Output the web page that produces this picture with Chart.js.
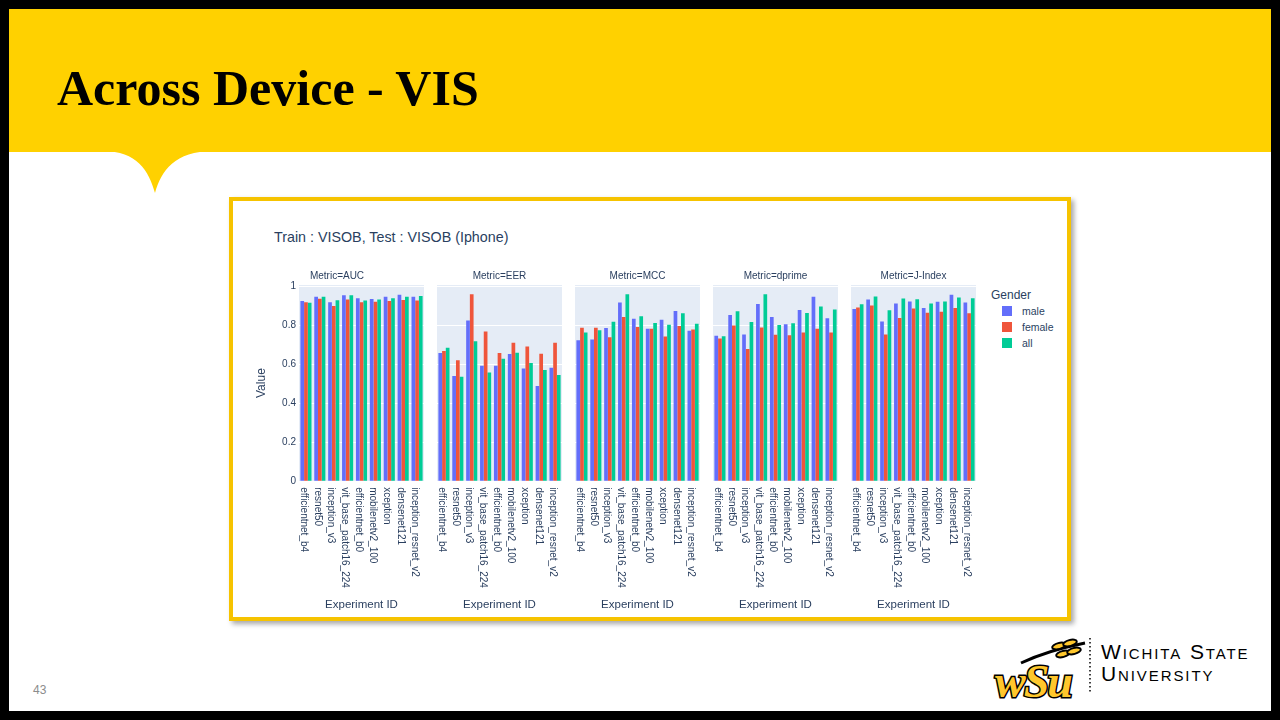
<!DOCTYPE html>
<html>
<head>
<meta charset="utf-8">
<script src="https://cdn.jsdelivr.net/npm/chart.js@4.4.1/dist/chart.umd.min.js"></script>
<style>
  html, body { margin: 0; padding: 0; }
  body { width: 1280px; height: 720px; background: #000; position: relative; overflow: hidden; font-family: "Liberation Sans", Arial, sans-serif; }
  #slide { position: absolute; left: 9px; top: 9px; width: 1262px; height: 702px; background: #fff; overflow: hidden; }
  .abs { position: absolute; }
  #band { left: 0; top: 0; width: 1262px; height: 143px; background: #FFD100; }
  #title { left: 48px; top: 49px; font-family: "Liberation Serif", "Times New Roman", serif; font-weight: bold; font-size: 50px; color: #000; white-space: nowrap; line-height: 60px; }
  #frame { width: 842px; height: 424px; box-sizing: border-box; border: 4px solid #F6C300; background: #fff; box-shadow: 3px 3px 5px rgba(0,0,0,0.35); }
  #ctitle { left: 274px; top: 229px; font-size: 14.3px; color: #2a3f5f; white-space: nowrap; }
  canvas { position: absolute; }
  #legend { left: 991px; top: 287px; color: #2a3f5f; }
  #legend .lt { font-size: 12px; line-height: 16px; }
  #legend .it { position: relative; height: 16px; font-size: 10.5px; line-height: 16px; padding-left: 31px; }
  #legend .sw { position: absolute; left: 11px; top: 3px; width: 10px; height: 10px; }
  #pnum { left: 24px; top: 674px; font-size: 12px; color: #8c8c8c; }
  #wsu1, #wsu2 { font-family: "Liberation Sans", Arial, sans-serif; font-variant: small-caps; font-size: 21px; letter-spacing: 1.9px; color: #000; white-space: nowrap; line-height: 22px; }
  #wsu1 { left: 1092px; top: 632px; }
  #wsu2 { left: 1092px; top: 654px; }
</style>
</head>
<body>
<div id="slide">
  <div id="band" class="abs"></div>
  <svg class="abs" style="left:0;top:0" width="300" height="200">
    <path d="M94,142 C128,142 140,162 146,184 C152,162 166,142 204,142 Z" fill="#FFD100"/>
  </svg>
  <div id="title" class="abs">Across Device - VIS</div>
  <div id="pnum" class="abs">43</div>
  <svg class="abs" style="left:984px;top:628px" width="100" height="64">
    <g stroke="#000" stroke-width="2" fill="#FFC72C">
      <path d="M28,26 C45,18 62,12 92,6" fill="none" stroke-width="3"/>
      <ellipse cx="66" cy="9" rx="7" ry="3" transform="rotate(-15 66 9)"/>
      <ellipse cx="77" cy="6" rx="7" ry="3" transform="rotate(-15 77 6)"/>
      <ellipse cx="70" cy="17" rx="7" ry="3" transform="rotate(-15 70 17)"/>
      <ellipse cx="81" cy="14" rx="7" ry="3" transform="rotate(-15 81 14)"/>
    </g>
    <text x="2" y="60" font-family="Liberation Serif, serif" font-style="italic" font-weight="bold" font-size="46" fill="#FFC72C" stroke="#000" stroke-width="3" paint-order="stroke" letter-spacing="-2">wSu</text>
  </svg>
  <svg class="abs" style="left:1078px;top:628px" width="6" height="56">
    <line x1="3" y1="1" x2="3" y2="55" stroke="#000" stroke-width="1.5" stroke-dasharray="1.5,2.5"/>
  </svg>
  <div id="wsu1" class="abs">Wichita State</div>
  <div id="wsu2" class="abs">University</div>
</div>
<div id="frame" class="abs" style="left:229px;top:197px"></div>
<div id="ctitle" class="abs">Train : VISOB, Test : VISOB (Iphone)</div>
<div id="legend" class="abs">
  <div class="lt">Gender</div>
  <div class="it"><span class="sw" style="background:#636EFA"></span>male</div>
  <div class="it"><span class="sw" style="background:#EF553B"></span>female</div>
  <div class="it"><span class="sw" style="background:#00CC96"></span>all</div>
</div>
<canvas id="c0"></canvas>
<canvas id="c1"></canvas>
<canvas id="c2"></canvas>
<canvas id="c3"></canvas>
<canvas id="c4"></canvas>

<script>
// ---- data ----
const categories = ["efficientnet_b4","resnet50","inception_v3","vit_base_patch16_224","efficientnet_b0","mobilenetv2_100","xception","densenet121","inception_resnet_v2"];
const genders = ["male","female","all"];
const genderColors = ["#636EFA","#EF553B","#00CC96"];
const metricNames = ["AUC","EER","MCC","dprime","J-Index"];
const yTicks = [0, 0.2, 0.4, 0.6, 0.8, 1];

const aucMale   = [0.926,0.948,0.920,0.955,0.940,0.936,0.947,0.958,0.947];
const aucFemale = [0.920,0.938,0.900,0.933,0.920,0.922,0.926,0.931,0.929];
const aucAll    = [0.917,0.947,0.930,0.955,0.928,0.933,0.940,0.947,0.952];

const eerMale   = [0.659,0.541,0.826,0.593,0.593,0.654,0.579,0.489,0.583];
const eerFemale = [0.669,0.622,0.960,0.769,0.659,0.711,0.692,0.655,0.711];
const eerAll    = [0.685,0.536,0.719,0.558,0.629,0.660,0.607,0.571,0.546];

const mccMale   = [0.724,0.728,0.787,0.918,0.835,0.783,0.830,0.875,0.773];
const mccFemale = [0.788,0.788,0.740,0.844,0.792,0.783,0.743,0.797,0.780];
const mccAll    = [0.764,0.775,0.819,0.960,0.847,0.813,0.804,0.863,0.809];

const dpMale    = [0.747,0.854,0.754,0.911,0.844,0.806,0.880,0.947,0.837];
const dpFemale  = [0.733,0.800,0.679,0.790,0.752,0.750,0.764,0.783,0.764];
const dpAll     = [0.745,0.873,0.818,0.960,0.802,0.811,0.864,0.897,0.882];

const jMale     = [0.885,0.934,0.820,0.913,0.923,0.890,0.922,0.958,0.918];
const jFemale   = [0.892,0.903,0.754,0.839,0.887,0.866,0.871,0.890,0.863];
const jAll      = [0.909,0.949,0.878,0.939,0.935,0.913,0.923,0.944,0.940];

const metricSeries = [
  [aucMale, aucFemale, aucAll],
  [eerMale, eerFemale, eerAll],
  [mccMale, mccFemale, mccAll],
  [dpMale, dpFemale, dpAll],
  [jMale, jFemale, jAll]
];

// ---- layout ----
const FONT = '"Liberation Sans", Arial, sans-serif';
const TXT = '#2a3f5f';
const panelLeft = [299, 437, 575, 713, 851];
const panelW = 125;
const yAxisW = 49;
const canvasTop = 263, canvasH = 353;
const yMax = 1.008;

const xLabelPlugin = {
  id: 'xLabelsDown',
  afterDraw(chart) {
    const ctx = chart.ctx, xs = chart.scales.x, area = chart.chartArea;
    ctx.save();
    ctx.font = '10px ' + FONT;
    ctx.fillStyle = TXT;
    ctx.textAlign = 'left';
    ctx.textBaseline = 'middle';
    chart.data.labels.forEach((lab, i) => {
      const x = xs.getPixelForValue(i) - 2.5;
      ctx.save();
      ctx.translate(x, area.bottom + 6);
      ctx.rotate(Math.PI / 2);
      ctx.fillText(lab, 0, 0);
      ctx.restore();
    });
    ctx.restore();
  }
};

metricNames.forEach((m, k) => {
  const first = k === 0;
  const cv = document.getElementById('c' + k);
  const w = first ? panelW + yAxisW : panelW;
  const left = first ? panelLeft[k] - yAxisW : panelLeft[k];
  cv.width = w; cv.height = canvasH;
  cv.style.width = w + 'px'; cv.style.height = canvasH + 'px';
  cv.style.left = left + 'px'; cv.style.top = canvasTop + 'px';

  new Chart(cv, {
    type: 'bar',
    data: {
      labels: categories,
      datasets: genders.map((g, j) => ({
        label: g,
        data: metricSeries[k][j],
        backgroundColor: genderColors[j],
        borderWidth: 0,
        categoryPercentage: 0.8,
        barPercentage: 1.0
      }))
    },
    options: {
      responsive: false,
      animation: false,
      devicePixelRatio: 1,
      layout: { padding: 0 },
      plugins: {
        legend: { display: false },
        tooltip: { enabled: false },
        title: {
          display: true,
          text: 'Metric=' + m,
          color: TXT,
          font: { family: FONT, size: 10, weight: 'normal' },
          padding: { top: 7, bottom: 3 }
        }
      },
      scales: {
        x: {
          grid: { display: false, drawTicks: false },
          border: { display: false },
          ticks: { display: false },
          title: {
            display: true,
            text: 'Experiment ID',
            color: TXT,
            font: { family: FONT, size: 11.5 },
            padding: { top: 117, bottom: 4 }
          }
        },
        y: {
          min: 0,
          max: yMax,
          afterFit(scale) { scale.width = first ? yAxisW : 0; },
          afterBuildTicks(scale) { scale.ticks = yTicks.map(v => ({ value: v })); },
          grid: { color: '#ffffff', lineWidth: 1, drawTicks: false },
          border: { display: false },
          ticks: {
            display: first,
            color: TXT,
            padding: 3,
            font: { family: FONT, size: 10 },
            callback: v => String(+Number(v).toFixed(1))
          },
          title: {
            display: first,
            text: 'Value',
            color: TXT,
            font: { family: FONT, size: 12 },
            padding: { top: 4, bottom: 0 }
          }
        }
      }
    },
    plugins: [
      {
        id: 'plotBg',
        beforeDraw(chart) {
          const a = chart.chartArea, c = chart.ctx;
          c.save(); c.fillStyle = '#E5ECF6'; c.fillRect(a.left, a.top, a.right - a.left, a.bottom - a.top); c.restore();
        }
      },
      xLabelPlugin
    ]
  });
});
</script>
</body>
</html>
